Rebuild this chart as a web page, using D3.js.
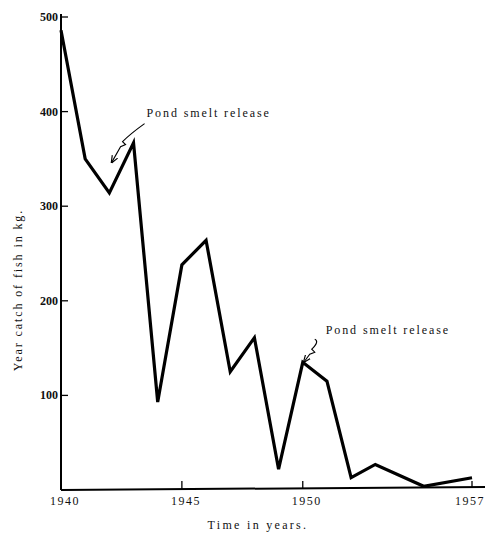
<!DOCTYPE html>
<html>
<head>
<meta charset="utf-8">
<script src="https://cdn.jsdelivr.net/npm/d3@7"></script>
<style>
  body { margin: 0; background: #fff; }
  text { font-family: "Liberation Serif", "DejaVu Serif", serif; fill: #111; }
</style>
</head>
<body>
<div id="chart"></div>
<script>
// yearly catch
var years = [1940, 1941, 1942, 1943, 1944, 1945, 1946, 1947, 1948, 1949, 1950, 1951, 1952, 1953, 1955, 1957];
var catchKg = [486, 350, 314, 367, 93, 238, 264, 125, 161, 22, 135, 115, 13, 27, 4, 13];
var xTicks = [1940, 1945, 1950, 1957];
var yTicks = [100, 200, 300, 400, 500];
// annotations: where the arrow points (year, kg)
var notes = [
  { label: "Pond smelt release", year: 1942.05, value: 345 },
  { label: "Pond smelt release", year: 1950.0, value: 134 }
];

var W = 485, H = 534;
var svg = d3.select("#chart").append("svg")
  .attr("width", W).attr("height", H);

var x = d3.scaleLinear().domain([1940, 1957]).range([61, 472]);
var y = d3.scaleLinear().domain([0, 500]).range([490, 17]);

// axes
svg.append("line")
  .attr("x1", x(1940)).attr("y1", y(0)).attr("x2", x(1940)).attr("y2", 14)
  .attr("stroke", "#000").attr("stroke-width", 2);
svg.append("line")
  .attr("x1", x(1940)).attr("y1", y(0)).attr("x2", 485).attr("y2", y(0) - 3)
  .attr("stroke", "#000").attr("stroke-width", 2);

// y ticks (pointing inwards)
var yg = svg.append("g");
yg.selectAll("line").data(yTicks).enter().append("line")
  .attr("x1", x(1940)).attr("x2", x(1940) + 7)
  .attr("y1", function(d) { return y(d); })
  .attr("y2", function(d) { return y(d); })
  .attr("stroke", "#000").attr("stroke-width", 1.3);
yg.selectAll("text").data(yTicks).enter().append("text")
  .attr("x", x(1940) - 3)
  .attr("y", function(d) { return y(d) + 4; })
  .attr("text-anchor", "end")
  .attr("font-size", 12)
  .attr("font-weight", "bold")
  .text(function(d) { return d; });

// x ticks (pointing up)
var xg = svg.append("g");
xg.selectAll("line").data(xTicks.slice(1)).enter().append("line")
  .attr("x1", function(d) { return x(d); })
  .attr("x2", function(d) { return x(d); })
  .attr("y1", function(d) { return y(0) - 2 * (x(d) - x(1940)) / 411; })
  .attr("y2", function(d) { return y(0) - 9; })
  .attr("stroke", "#000").attr("stroke-width", 1.3);
xg.selectAll("text").data(xTicks).enter().append("text")
  .attr("x", function(d) { return d === 1957 ? x(d) - 2 : x(d) + 4; })
  .attr("y", 505)
  .attr("text-anchor", "middle")
  .attr("font-size", 12)
  .attr("letter-spacing", 1.5)
  .text(function(d) { return d; });

// axis titles
svg.append("text")
  .attr("x", 258).attr("y", 529)
  .attr("text-anchor", "middle")
  .attr("font-size", 12)
  .attr("letter-spacing", 2.3)
  .text("Time in years.");
svg.append("text")
  .attr("transform", "translate(22, 290) rotate(-90)")
  .attr("text-anchor", "middle")
  .attr("font-size", 12)
  .attr("letter-spacing", 1.9)
  .text("Year catch of fish in kg.");

// the catch line
var line = d3.line()
  .x(function(d, i) { return x(years[i]); })
  .y(function(d) { return y(d); });
svg.append("path")
  .datum(catchKg)
  .attr("d", line)
  .attr("fill", "none")
  .attr("stroke", "#000")
  .attr("stroke-width", 3.2)
  .attr("stroke-linejoin", "miter");

// arrow head marker
svg.append("defs").append("marker")
  .attr("id", "head")
  .attr("viewBox", "0 0 10 10")
  .attr("refX", 9).attr("refY", 5)
  .attr("markerWidth", 7).attr("markerHeight", 7)
  .attr("orient", "auto")
  .append("path")
  .attr("d", "M0,1 L10,5 L0,9")
  .attr("fill", "none")
  .attr("stroke", "#000")
  .attr("stroke-width", 1.5);

// annotations with squiggly arrows
var big = notes[0], small = notes[1];
function arrow(n, dx1, dy1, sx, sy, tx, ty) {
  var hx = x(n.year), hy = y(n.value);
  var p = d3.path();
  p.moveTo(hx + dx1, hy + dy1);
  p.quadraticCurveTo(hx + sx + 8, hy + sy - 8, hx + sx, hy + sy);
  p.lineTo(hx + sx + 3, hy + sy + 3);
  p.lineTo(hx + sx - 2, hy + sy + 5);
  p.lineTo(hx + 1, hy - 1);
  svg.append("path").attr("d", p.toString())
    .attr("fill", "none").attr("stroke", "#000").attr("stroke-width", 1.1)
    .attr("marker-end", "url(#head)");
  svg.append("text")
    .attr("x", hx + tx).attr("y", hy + ty)
    .attr("font-size", 12)
    .attr("letter-spacing", 1.9)
    .text(n.label);
}
arrow(big, 34, -40, 12, -22, 36, -47);
arrow(small, 12, -24, 9, -14, 23, -29);
</script>
</body>
</html>
